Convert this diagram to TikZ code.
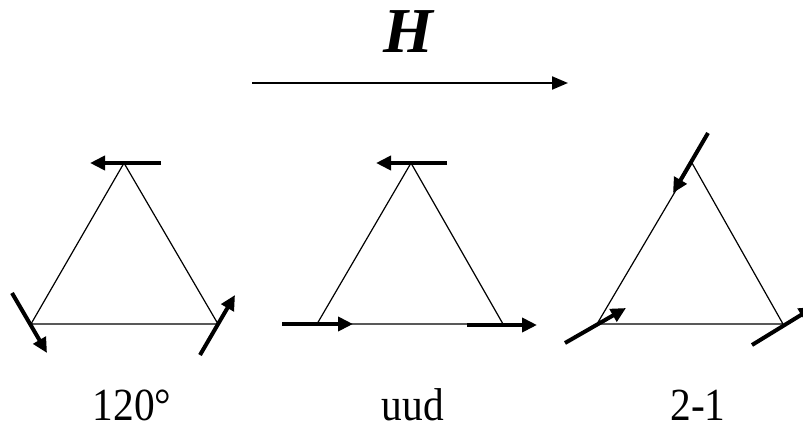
\documentclass[tikz,border=0pt]{standalone}
\usepackage{fontspec}
\setmainfont{Liberation Serif}
\newfontfamily\phasefont[FakeStretch=0.9]{Liberation Serif}
\usetikzlibrary{arrows.meta}

\begin{document}
\begin{tikzpicture}[
    x=1pt, y=-1pt,
    bond/.style={line width=1.2pt, line join=miter},
    spin/.style={-{Triangle[length=15pt, width=14pt]}, line width=4pt},
    field/.style={-{Triangle[length=16pt, width=13pt]}, line width=2pt},
    phase/.style={font=\phasefont\fontsize{46}{46}\selectfont, anchor=base}
]
\useasboundingbox (0,0) rectangle (803,433);
\clip (0,0) rectangle (803,433);

% --- CHAMP ---
\node[font=\fontsize{64}{64}\selectfont\bfseries\itshape, anchor=base] (lblH) at (408,53) {H};
\coordinate (h-a) at (252,83);
\coordinate (h-b) at (568,83);
\draw[field] (h-a) -- (h-b);

% --- TRIANGLES ---
\foreach \n/\xt/\xl/\xr in {1/124/31/218, 2/411/317/503, 3/692/597/783} {
    \coordinate (t\n-top) at (\xt,163);
    \coordinate (t\n-bl) at (\xl,324);
    \coordinate (t\n-br) at (\xr,324);
    \draw[bond] (t\n-top) -- (t\n-bl) -- (t\n-br) -- cycle;
}

% --- SPINS ---
% 120 degres
\coordinate (s1-top-a) at (161,163); \coordinate (s1-top-b) at (90,163);
\coordinate (s1-bl-a) at (12,293);   \coordinate (s1-bl-b) at (47,353);
\coordinate (s1-br-a) at (200,355);  \coordinate (s1-br-b) at (235,295);
% uud
\coordinate (s2-top-a) at (447,163); \coordinate (s2-top-b) at (376,163);
\coordinate (s2-bl-a) at (282,324);  \coordinate (s2-bl-b) at (353,324);
\coordinate (s2-br-a) at (467,325);  \coordinate (s2-br-b) at (537,325);
% 2-1
\coordinate (s3-top-a) at (708,133); \coordinate (s3-top-b) at (673,193);
\coordinate (s3-bl-a) at (565,343);  \coordinate (s3-bl-b) at (626,308);
\coordinate (s3-br-a) at (752,345);  \coordinate (s3-br-b) at (814,307);

\foreach \n in {1,2,3}
    \foreach \v in {top,bl,br}
        \draw[spin] (s\n-\v-a) -- (s\n-\v-b);

% --- LABELS ---
\node[phase] (lbl-120) at (132,420) {120°};
\node[phase] (lbl-uud) at (413,420) {uud};
\node[phase] (lbl-21) at (698,420) {2-1};

\end{tikzpicture}
\end{document}
